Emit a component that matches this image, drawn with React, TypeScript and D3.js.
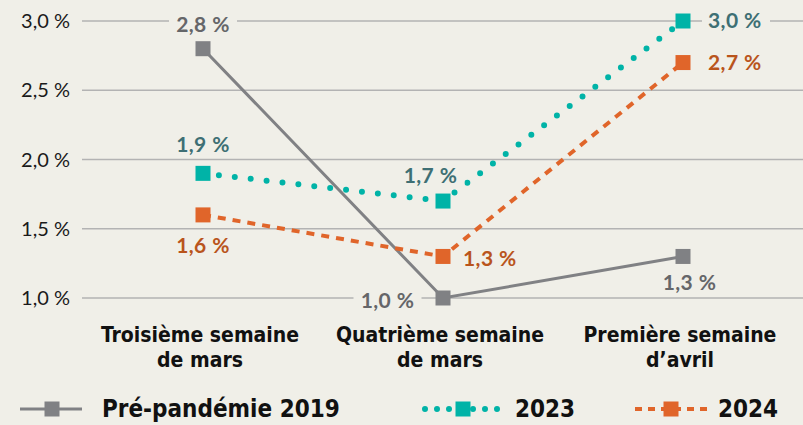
import React from "react";
import * as d3 from "d3";

const categories = [
  ["Troisième semaine", "de mars"],
  ["Quatrième semaine", "de mars"],
  ["Première semaine", "d\u2019avril"],
];
const series2019 = [2.8, 1.0, 1.3];
const series2023 = [1.9, 1.7, 3.0];
const series2024 = [1.6, 1.3, 2.7];
const yTicks = [1.0, 1.5, 2.0, 2.5, 3.0];
const seriesNames = ["Pré-pandémie 2019", "2023", "2024"];

const W = 803;
const H = 425;
const BG = "#F0EFE8";
const fmt = (v: number) => v.toFixed(1).replace(".", ",") + " %";

// label placement: [dx, dy, anchor]
const place2019: [number, number, string][] = [
  [0, -24.5, "middle"],
  [-55.5, 2.5, "middle"],
  [6.5, 26, "middle"],
];
const place2023: [number, number, string][] = [
  [0, -29, "middle"],
  [-12.5, -25.5, "middle"],
  [25, 0, "start"],
];
const place2024: [number, number, string][] = [
  [0, 31, "middle"],
  [20, 2, "start"],
  [25, 0, "start"],
];

export default function App() {
  const x = d3.scaleBand<number>().domain([0, 1, 2]).range([83, 803]);
  const y = d3.scaleLinear().domain([1, 3]).range([298, 21]);
  const cx = (i: number) => (x(i) as number) + x.bandwidth() / 2;
  const line = d3
    .line<number>()
    .x((_, i) => cx(i))
    .y((d) => y(d));

  const series = [
    {
      data: series2019,
      color: "#808184",
      labelColor: "#656669",
      width: 3,
      dash: undefined as string | undefined,
      cap: "butt",
      place: place2019,
    },
    {
      data: series2023,
      color: "#00B3A7",
      labelColor: "#3E6F74",
      width: 6,
      dash: "0 16",
      cap: "round",
      place: place2023,
    },
    {
      data: series2024,
      color: "#E0652A",
      labelColor: "#B9541C",
      width: 4,
      dash: "8 7",
      cap: "butt",
      place: place2024,
    },
  ];

  const valueFont = "Lato, 'Open Sans', sans-serif";
  const condFont = "'Liberation Sans Narrow', 'DejaVu Sans Condensed', sans-serif";
  const M = 15;

  const legendItems = [
    { x0: 20, x1: 82, mx: 52, tx: 102, s: series[0] },
    { x0: 425, x1: 500, mx: 463, tx: 515, s: series[1] },
    { x0: 635, x1: 708, mx: 671, tx: 718, s: series[2] },
  ];

  return (
    <svg
      width={W}
      height={H}
      style={{ position: "absolute", left: 0, top: 0, background: BG }}
    >
      <rect x={0} y={0} width={W} height={H} fill={BG} />
      {yTicks.map((t) => (
        <g key={t}>
          <line x1={82} x2={W} y1={y(t)} y2={y(t)} stroke="#B3B3B3" strokeWidth={1.5} />
          <text
            x={70}
            y={y(t)}
            dy="0.35em"
            textAnchor="end"
            fontFamily={valueFont}
            fontSize={20}
            fill="#1a1a1a"
          >
            {fmt(t)}
          </text>
        </g>
      ))}
      {series.map((s, si) => (
        <path
          key={si}
          d={line(s.data) || ""}
          fill="none"
          stroke={s.color}
          strokeWidth={s.width}
          strokeDasharray={s.dash}
          strokeLinecap={s.cap as any}
        />
      ))}
      {series.map((s, si) =>
        s.data.map((v, i) => (
          <rect
            key={si + "-" + i}
            x={cx(i) - M / 2}
            y={y(v) - M / 2}
            width={M}
            height={M}
            fill={s.color}
          />
        ))
      )}
      {series.map((s, si) =>
        s.data.map((v, i) => {
          const [dx, dy, anchor] = s.place[i];
          const tx = cx(i) + dx;
          const ty = y(v) + dy;
          const tw = 56;
          const rx = anchor === "middle" ? tx - tw / 2 - 6 : tx - 6;
          return (
            <g key={"l" + si + "-" + i}>
              <rect x={rx} y={ty - 10} width={tw + 12} height={20} fill={BG} />
              <text
                x={tx}
                y={ty}
                dy="0.35em"
                textAnchor={anchor as any}
                fontFamily={valueFont}
                fontWeight={700}
                fontSize={21}
                letterSpacing={0.4}
                fill={s.labelColor}
              >
                {fmt(v)}
              </text>
            </g>
          );
        })
      )}
      {categories.map((c, i) =>
        c.map((ln, li) => (
          <text
            key={i + "-" + li}
            x={cx(i) - 3}
            y={335 + li * 25}
            dy="0.35em"
            textAnchor="middle"
            fontFamily={condFont}
            fontWeight={700}
            fontSize={21}
            fill="#111"
          >
            {ln}
          </text>
        ))
      )}
      {legendItems.map((it, k) => (
        <g key={k}>
          <line
            x1={it.x0}
            x2={it.x1}
            y1={409}
            y2={409}
            stroke={it.s.color}
            strokeWidth={it.s.width}
            strokeDasharray={k === 1 ? "0 12" : k === 2 ? "7 6" : undefined}
            strokeLinecap={it.s.cap as any}
          />
          <rect x={it.mx - 7.5} y={401.5} width={15} height={15} fill={it.s.color} />
          <text
            x={it.tx}
            y={409}
            dy="0.35em"
            fontFamily={condFont}
            fontWeight={700}
            fontSize={24}
            fill="#111"
          >
            {seriesNames[k]}
          </text>
        </g>
      ))}
    </svg>
  );
}
